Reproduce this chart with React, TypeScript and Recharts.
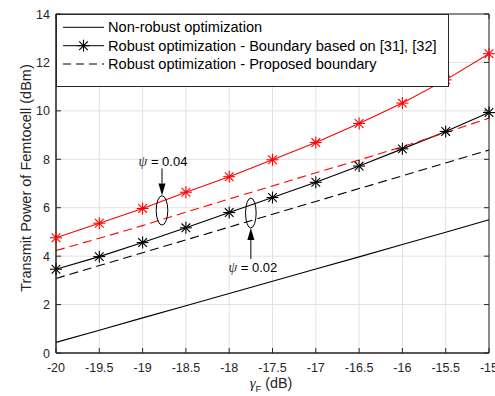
import React from "react";
import {
  Legend,
  Line,
  LineChart,
  CartesianGrid,
  ReferenceArea,
  ReferenceDot,
  XAxis,
  YAxis,
} from "recharts";

// gamma_F (dB)
const gamma = [-20, -19.5, -19, -18.5, -18, -17.5, -17, -16.5, -16, -15.5, -15];

const nonRobust = [0.44, 0.94, 1.45, 1.95, 2.46, 2.96, 3.47, 3.97, 4.48, 4.99, 5.5];
// psi = 0.02
const boundary02 = [3.46, 3.98, 4.56, 5.17, 5.8, 6.42, 7.05, 7.72, 8.43, 9.15, 9.93];
const proposed02 = [3.08, 3.61, 4.14, 4.67, 5.2, 5.73, 6.26, 6.79, 7.32, 7.85, 8.38];
// psi = 0.04
const boundary04 = [4.76, 5.36, 5.97, 6.64, 7.28, 7.98, 8.69, 9.48, 10.32, 11.28, 12.36];
const proposed04 = [4.23, 4.74, 5.26, 5.82, 6.36, 6.9, 7.44, 7.97, 8.52, 9.1, 9.7];

const xTicks = [-20, -19.5, -19, -18.5, -18, -17.5, -17, -16.5, -16, -15.5, -15];
const yTicks = [0, 2, 4, 6, 8, 10, 12, 14];

const legendLabels = [
  "Non-robust optimization",
  "Robust optimization - Boundary based on [31], [32]",
  "Robust optimization - Proposed boundary",
];

const data = gamma.map((g, i) => ({
  g,
  nonRobust: nonRobust[i],
  boundary02: boundary02[i],
  proposed02: proposed02[i],
  boundary04: boundary04[i],
  proposed04: proposed04[i],
}));

const AX = "#262626";
const FONT = "'Liberation Sans', Arial, sans-serif";
const PLOT_TOP = 14;
const PLOT_RIGHT = 489;

function Star({ cx, cy, color }: { cx: number; cy: number; color: string }) {
  const r = 6;
  const d = r * 0.72;
  return (
    <g stroke={color} strokeWidth={1.1}>
      <line x1={cx - r} y1={cy} x2={cx + r} y2={cy} />
      <line x1={cx} y1={cy - r} x2={cx} y2={cy + r} />
      <line x1={cx - d} y1={cy - d} x2={cx + d} y2={cy + d} />
      <line x1={cx - d} y1={cy + d} x2={cx + d} y2={cy - d} />
    </g>
  );
}

const starDot = (color: string) => (props: any) =>
  <Star key={props.index} cx={props.cx} cy={props.cy} color={color} />;

function XTick({ x, y, payload }: any) {
  return (
    <g>
      <line x1={x} x2={x} y1={y} y2={y - 5} stroke={AX} />
      <line x1={x} x2={x} y1={PLOT_TOP} y2={PLOT_TOP + 5} stroke={AX} />
      <text x={x} y={y + 19} textAnchor="middle" fontSize={12.5} fill={AX} fontFamily={FONT}>
        {payload.value}
      </text>
    </g>
  );
}

function YTick({ x, y, payload }: any) {
  return (
    <g>
      <line x1={x} x2={x + 5} y1={y} y2={y} stroke={AX} />
      <line x1={PLOT_RIGHT} x2={PLOT_RIGHT - 5} y1={y} y2={y} stroke={AX} />
      <text x={x - 6} y={y + 4.5} textAnchor="end" fontSize={12.5} fill={AX} fontFamily={FONT}>
        {payload.value}
      </text>
    </g>
  );
}

function Arrow({ x, y1, y2 }: { x: number; y1: number; y2: number }) {
  const dir = y2 > y1 ? 1 : -1;
  const head = 12;
  return (
    <g>
      <line x1={x} x2={x} y1={y1} y2={y2 - dir * head} stroke="#000" strokeWidth={1} />
      <path
        d={`M${x} ${y2} L${x - 3.5} ${y2 - dir * head} L${x + 3.5} ${y2 - dir * head} Z`}
        fill="#000"
      />
    </g>
  );
}

function PsiText({ x, y, value }: { x: number; y: number; value: string }) {
  return (
    <text x={x} y={y} textAnchor="middle" fontSize={13} fontFamily={FONT} fill="#000">
      <tspan fontFamily="'Liberation Serif', serif" fontStyle="italic" fontSize={14} fill="#333">
        ψ
      </tspan>
      <tspan> = {value}</tspan>
    </text>
  );
}

function LegendBox() {
  const rows = [27.3 - PLOT_TOP, 45.7 - PLOT_TOP, 64 - PLOT_TOP];
  return (
    <svg width={393} height={73} style={{ display: "block" }}>
      <rect x={0.5} y={0.5} width={392} height={72} fill="#fff" stroke={AX} />
      <line x1={7} x2={48} y1={rows[0]} y2={rows[0]} stroke="#000" />
      <line x1={7} x2={48} y1={rows[1]} y2={rows[1]} stroke="#000" />
      <Star cx={27.5} cy={rows[1]} color="#000" />
      <line x1={7} x2={48} y1={rows[2]} y2={rows[2]} stroke="#000" strokeDasharray="8 5" />
      {legendLabels.map((t, i) => (
        <text key={t} x={52} y={rows[i] + 5} fontSize={14.6} fontFamily={FONT} fill="#000">
          {t}
        </text>
      ))}
    </svg>
  );
}

export default function App() {
  return (
    <div style={{ position: "absolute", left: 0, top: 0, width: 495, height: 396, background: "#fff" }}>
      <LineChart
        width={495}
        height={396}
        data={data}
        margin={{ top: PLOT_TOP, right: 6, left: 0, bottom: 0 }}
      >
        <CartesianGrid stroke="#e2e2e2" />
        <XAxis
          dataKey="g"
          type="number"
          domain={[-20, -15]}
          ticks={xTicks}
          interval={0}
          height={43}
          tickSize={0}
          tickMargin={0}
          tickLine={false}
          axisLine={{ stroke: AX }}
          tick={<XTick />}
          label={{
            content: () => (
              <text x={271} y={388} textAnchor="middle" fontSize={14.3} fontFamily={FONT} fill={AX}>
                <tspan fontFamily="'Liberation Serif', serif" fontStyle="italic" fontSize={15}>
                  γ
                </tspan>
                <tspan fontSize={9.5} dy={4}>F</tspan>
                <tspan dy={-4}> (dB)</tspan>
              </text>
            ),
          }}
        />
        <YAxis
          type="number"
          domain={[0, 14]}
          ticks={yTicks}
          interval={0}
          width={56}
          tickSize={0}
          tickMargin={0}
          tickLine={false}
          axisLine={{ stroke: AX }}
          tick={<YTick />}
          label={{
            content: () => (
              <text
                transform="translate(31,178) rotate(-90)"
                textAnchor="middle"
                fontSize={14.5}
                fontFamily={FONT}
                fill={AX}
              >
                Transmit Power of Femtocell (dBm)
              </text>
            ),
          }}
        />
        <ReferenceArea x1={-20} x2={-15} y1={0} y2={14} fill="none" stroke={AX} fillOpacity={0} />

        <Line dataKey="nonRobust" stroke="#000" strokeWidth={1.1} dot={false} isAnimationActive={false} />
        <Line dataKey="proposed02" stroke="#000" strokeWidth={1.1} strokeDasharray="9 5" dot={false} isAnimationActive={false} />
        <Line dataKey="boundary02" stroke="#000" strokeWidth={1.1} dot={starDot("#000")} isAnimationActive={false} />
        <Line dataKey="proposed04" stroke="#ff0000" strokeWidth={1.1} strokeDasharray="9 5" dot={false} isAnimationActive={false} />
        <Line dataKey="boundary04" stroke="#ff0000" strokeWidth={1.1} dot={starDot("#ff0000")} isAnimationActive={false} />

        <ReferenceDot
          x={-18.776}
          y={5.89}
          r={0}
          shape={(p: any) => (
            <g>
              <ellipse cx={p.cx} cy={p.cy} rx={5.8} ry={14.7} fill="none" stroke="#000" />
              <Arrow x={p.cx} y1={p.cy - 42} y2={p.cy - 15} />
              <PsiText x={p.cx + 1} y={p.cy - 44} value="0.04" />
            </g>
          )}
        />
        <ReferenceDot
          x={-17.75}
          y={5.78}
          r={0}
          shape={(p: any) => (
            <g>
              <ellipse cx={p.cx} cy={p.cy} rx={5.3} ry={15} fill="none" stroke="#000" />
              <Arrow x={p.cx} y1={p.cy + 46} y2={p.cy + 15} />
              <PsiText x={p.cx + 2} y={p.cy + 59} value="0.02" />
            </g>
          )}
        />

        <Legend
          layout="horizontal"
          verticalAlign="middle"
          align="center"
          content={() => <LegendBox />}
          wrapperStyle={{ position: "absolute", left: 56, top: PLOT_TOP, width: 393, height: 73 }}
        />
      </LineChart>
    </div>
  );
}
